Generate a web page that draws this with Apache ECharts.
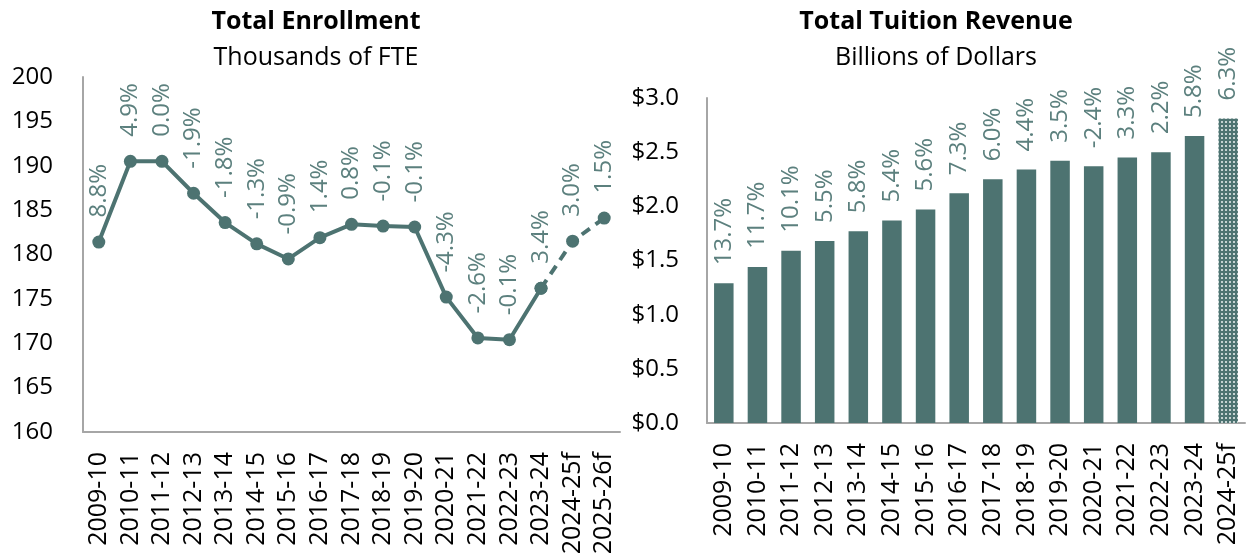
<!DOCTYPE html>
<html>
<head>
<meta charset="utf-8">
<script src="https://cdn.jsdelivr.net/npm/echarts@6/dist/echarts.min.js"></script>
<style>
html,body{margin:0;padding:0;background:#fff;}
#chart{width:1247px;height:560px;}
</style>
</head>
<body>
<div id="chart"></div>
<script>
// ---- Data ----
const enrollYears = ['2009-10','2010-11','2011-12','2012-13','2013-14','2014-15','2015-16','2016-17','2017-18','2018-19','2019-20','2020-21','2021-22','2022-23','2023-24','2024-25f','2025-26f'];
const enrollValues = [181.4,190.5,190.5,186.9,183.6,181.2,179.5,181.9,183.4,183.2,183.1,175.2,170.6,170.4,176.2,181.5,184.1];
const enrollGrowth = ['8.8%','4.9%','0.0%','-1.9%','-1.8%','-1.3%','-0.9%','1.4%','0.8%','-0.1%','-0.1%','-4.3%','-2.6%','-0.1%','3.4%','3.0%','1.5%'];
const enrollForecastStart = 14; // index where dashed (forecast) segment begins

const revenueYears = ['2009-10','2010-11','2011-12','2012-13','2013-14','2014-15','2015-16','2016-17','2017-18','2018-19','2019-20','2020-21','2021-22','2022-23','2023-24','2024-25f'];
const revenueValues = [1.29,1.44,1.59,1.68,1.77,1.87,1.97,2.12,2.25,2.34,2.42,2.37,2.45,2.50,2.65,2.81];
const revenueGrowth = ['13.7%','11.7%','10.1%','5.5%','5.8%','5.4%','5.6%','7.3%','6.0%','4.4%','3.5%','-2.4%','3.3%','2.2%','5.8%','6.3%'];
const revenueForecastIndex = 15;

const enrollTicks = {min:160, max:200, interval:5};
const revenueTicks = {min:0, max:3, interval:0.5};

// ---- Styling ----
const TEAL = '#4d7371';
const LABEL = '#5c807e';
const AXIS = '#a6a6a6';
const FONT = '"Open Sans", "Noto Sans", sans-serif';

const pat = document.createElement('canvas');
pat.width = 4; pat.height = 4;
const pctx = pat.getContext('2d');
pctx.fillStyle = TEAL; pctx.fillRect(0,0,4,4);
pctx.fillStyle = '#c5d3d2'; pctx.fillRect(1,1,2,2);

const solidData = enrollValues.map((v,i)=> i<=enrollForecastStart ? v : null);
const dashData = enrollValues.map((v,i)=> i>=enrollForecastStart ? v : null);

const labelBase = {
  show:true, position:'top', rotate:90, align:'left', verticalAlign:'middle',
  distance:18, color:LABEL, fontSize:24, fontFamily:FONT
};

const chart = echarts.init(document.getElementById('chart'), null, {renderer:'canvas'});
chart.setOption({
  animation:false,
  textStyle:{fontFamily:FONT},
  title:[
    {text:'Total Enrollment', left:311, top:4, textAlign:'center',
     textStyle:{fontSize:25, fontWeight:'bold', color:'#000', fontFamily:FONT}},
    {text:'Thousands of FTE', left:311, top:40, textAlign:'center',
     textStyle:{fontSize:25, fontWeight:'normal', color:'#000', fontFamily:FONT}},
    {text:'Total Tuition Revenue', left:931, top:4, textAlign:'center',
     textStyle:{fontSize:25, fontWeight:'bold', color:'#000', fontFamily:FONT}},
    {text:'Billions of Dollars', left:931, top:40, textAlign:'center',
     textStyle:{fontSize:25, fontWeight:'normal', color:'#000', fontFamily:FONT}}
  ],
  grid:[
    {left:83, right:627, top:77, bottom:128},
    {left:707, right:2, top:98, bottom:137}
  ],
  xAxis:[
    {type:'category', gridIndex:0, data:enrollYears, boundaryGap:true,
     axisLine:{lineStyle:{color:AXIS, width:2}}, axisTick:{show:false},
     axisLabel:{rotate:90, margin:20, color:'#000', fontSize:25, fontFamily:FONT, interval:0}},
    {type:'category', gridIndex:1, data:revenueYears, boundaryGap:true,
     axisLine:{lineStyle:{color:AXIS, width:2}}, axisTick:{show:false},
     axisLabel:{rotate:90, margin:20, color:'#000', fontSize:25, fontFamily:FONT, interval:0}}
  ],
  yAxis:[
    {type:'value', gridIndex:0, min:enrollTicks.min, max:enrollTicks.max, interval:enrollTicks.interval,
     axisLine:{show:true, lineStyle:{color:AXIS, width:2}}, axisTick:{show:false}, splitLine:{show:false},
     axisLabel:{margin:30, color:'#000', fontSize:24, fontFamily:FONT}},
    {type:'value', gridIndex:1, min:revenueTicks.min, max:revenueTicks.max, interval:revenueTicks.interval,
     axisLine:{show:true, lineStyle:{color:AXIS, width:2}}, axisTick:{show:false}, splitLine:{show:false},
     axisLabel:{margin:28, color:'#000', fontSize:24, fontFamily:FONT,
       formatter:v=>'$'+v.toFixed(1)}}
  ],
  series:[
    {type:'line', xAxisIndex:0, yAxisIndex:0, data:solidData, connectNulls:false,
     symbol:'circle', symbolSize:13, lineStyle:{color:TEAL, width:4}, itemStyle:{color:TEAL},
     label:Object.assign({}, labelBase, {formatter:p=>enrollGrowth[p.dataIndex]})},
    {type:'line', xAxisIndex:0, yAxisIndex:0, data:dashData, connectNulls:false,
     symbol:'circle', symbolSize:13, lineStyle:{color:TEAL, width:4, type:[10,7]}, itemStyle:{color:TEAL},
     label:Object.assign({}, labelBase, {formatter:p=> p.dataIndex>enrollForecastStart ? enrollGrowth[p.dataIndex] : ''})},
    {type:'bar', xAxisIndex:1, yAxisIndex:1, barCategoryGap:'42%',
     data:revenueValues.map((v,i)=> i===revenueForecastIndex
        ? {value:v, itemStyle:{color:{image:pat, repeat:'repeat'}}}
        : {value:v}),
     itemStyle:{color:TEAL},
     label:Object.assign({}, labelBase, {formatter:p=>revenueGrowth[p.dataIndex]})}
  ]
});
</script>
</body>
</html>
